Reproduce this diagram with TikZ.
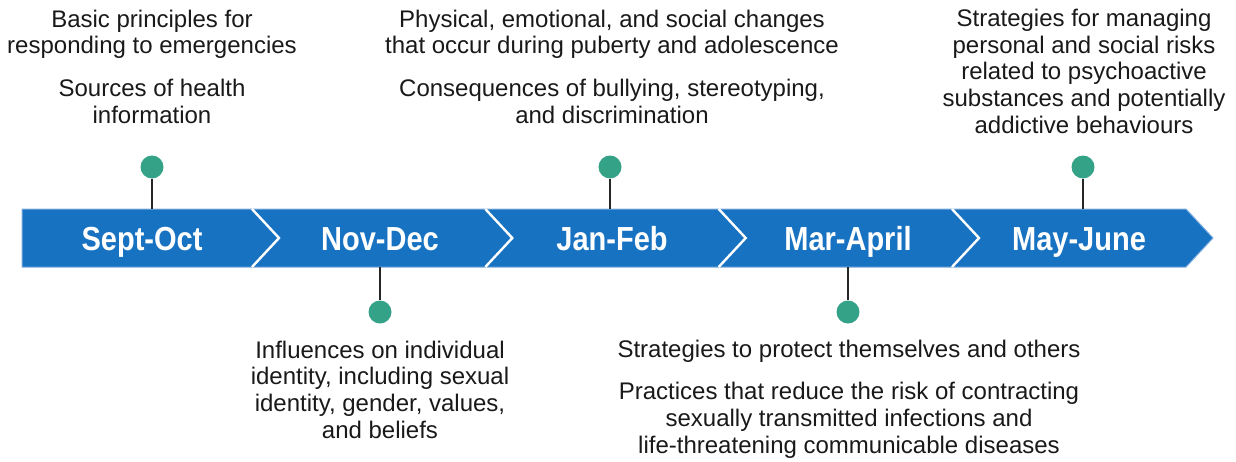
\documentclass[tikz,border=0pt]{standalone}
\usepackage{fontspec}
\setmainfont{Liberation Sans}
\newfontfamily\monthfont[FakeStretch=0.87]{Liberation Sans}
\definecolor{barblue}{RGB}{24,114,194}
\definecolor{baredge}{RGB}{125,172,222}
\definecolor{pingreen}{RGB}{51,162,135}
\definecolor{txt}{RGB}{25,25,25}
\begin{document}
\begin{tikzpicture}[x=0.75pt,y=-0.75pt,
  desc/.style={font=\fontsize{18}{20}\selectfont, text=txt, align=center, inner sep=0pt, anchor=base},
  month/.style={font=\monthfont\bfseries\fontsize{25}{28}\selectfont, text=white, inner sep=0pt, anchor=base},
  pin/.style={circle, fill=pingreen, minimum size=17.25pt, inner sep=0pt},
  stem/.style={draw=black!85, line width=1.1pt},
  divider/.style={draw=white, line width=1.8pt}
]
\useasboundingbox (0,0) rectangle (1236,461);
% bar
\fill[barblue, draw=baredge, line width=0.75pt] (22,209) -- (1186,209) -- (1213,238) -- (1186,267) -- (22,267) -- cycle;
\foreach \x in {252,485.3,718.7,952}
  \draw[divider] (\x,209) -- (\x+27,238) -- (\x,267);
% month labels
\node[month] (m1) at (142,250) {Sept-Oct};
\node[month] (m2) at (380,250) {Nov-Dec};
\node[month] (m3) at (612,250) {Jan-Feb};
\node[month] (m4) at (848,250) {Mar-April};
\node[month] (m5) at (1079,250) {May-June};
% pins
\node[pin] (p1) at (152,167) {};
\node[pin] (p2) at (380,312) {};
\node[pin] (p3) at (610,167) {};
\node[pin] (p4) at (848,312) {};
\node[pin] (p5) at (1083,167) {};
\coordinate (b1) at (152,209);
\coordinate (b2) at (380,267);
\coordinate (b3) at (610,209);
\coordinate (b4) at (848,267);
\coordinate (b5) at (1083,209);
\draw[stem] (p1) -- (b1);
\draw[stem] (p2) -- (b2);
\draw[stem] (p3) -- (b3);
\draw[stem] (p4) -- (b4);
\draw[stem] (p5) -- (b5);
% descriptions (base anchor = baseline of last line)
\node[desc] (t1) at (152,123) {Basic principles for\\responding to emergencies\\[12pt]Sources of health\\information};
\node[desc] (t3) at (612,123) {Physical, emotional, and social changes\\that occur during puberty and adolescence\\[12pt]Consequences of bullying, stereotyping,\\and discrimination};
\node[desc] (t5) at (1084,133) {Strategies for managing\\personal and social risks\\related to psychoactive\\substances and potentially\\addictive behaviours};
\node[desc] (t2) at (380,438) {Influences on individual\\identity, including sexual\\identity, gender, values,\\and beliefs};
\node[desc] (t4) at (849,453) {Strategies to protect themselves and others\\[12pt]Practices that reduce the risk of contracting\\sexually transmitted infections and\\life-threatening communicable diseases};
\end{tikzpicture}
\end{document}
